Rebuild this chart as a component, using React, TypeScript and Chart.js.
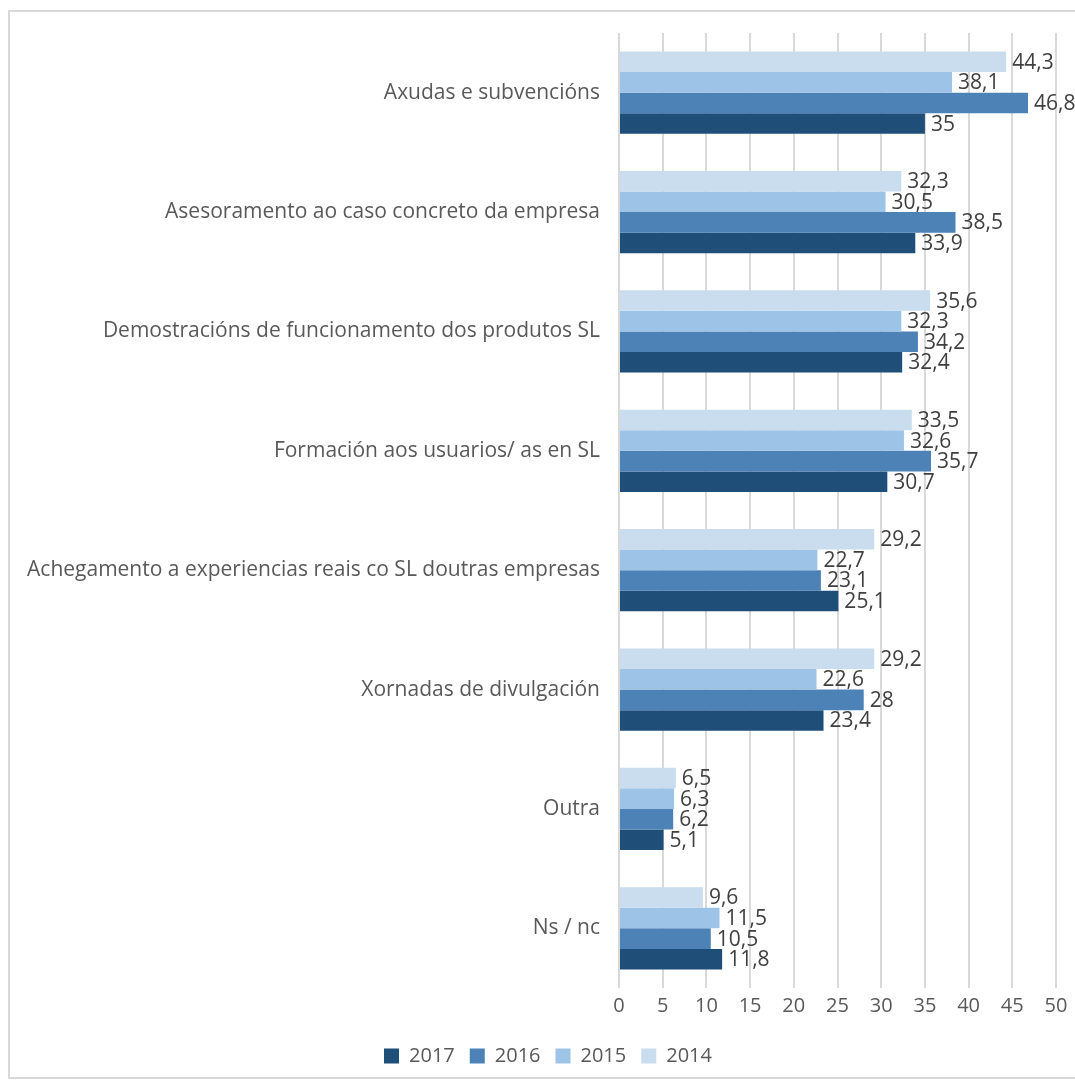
import React, { useEffect, useRef } from "react";
import { Chart, registerables } from "chart.js";

Chart.register(...registerables);

const categories = [
  "Axudas e subvencións",
  "Asesoramento ao caso concreto da empresa",
  "Demostracións de funcionamento dos produtos SL",
  "Formación aos usuarios/ as en SL",
  "Achegamento a experiencias reais co SL doutras empresas",
  "Xornadas de divulgación",
  "Outra",
  "Ns / nc",
];

const values2014 = [44.3, 32.3, 35.6, 33.5, 29.2, 29.2, 6.5, 9.6];
const values2015 = [38.1, 30.5, 32.3, 32.6, 22.7, 22.6, 6.3, 11.5];
const values2016 = [46.8, 38.5, 34.2, 35.7, 23.1, 28, 6.2, 10.5];
const values2017 = [35, 33.9, 32.4, 30.7, 25.1, 23.4, 5.1, 11.8];

const seriesLabels = ["2014", "2015", "2016", "2017"];
const seriesColors = ["#C9DDEE", "#9DC3E6", "#4C82B6", "#1F4E79"];

const xTicks = [0, 5, 10, 15, 20, 25, 30, 35, 40, 45, 50];

const FONT = "'Open Sans', 'Noto Sans', sans-serif";

const valueLabelPlugin = {
  id: "valueLabels",
  afterLayout(chart: any) {
    const lg = chart.legend;
    if (lg) {
      lg.left += 20;
      lg.right += 20;
    }
  },
  afterDatasetsDraw(chart: any) {
    const ctx = chart.ctx;
    ctx.save();
    ctx.font = `21px ${FONT}`;
    ctx.fillStyle = "#404040";
    ctx.textAlign = "left";
    ctx.textBaseline = "middle";
    chart.data.datasets.forEach((ds: any, di: number) => {
      const meta = chart.getDatasetMeta(di);
      meta.data.forEach((el: any, i: number) => {
        const v = ds.data[i];
        const txt = String(v).replace(".", ",");
        ctx.fillText(txt, el.x + 6, el.y + 1);
      });
    });
    ctx.restore();
  },
};

export default function App() {
  const ref = useRef<HTMLCanvasElement | null>(null);

  useEffect(() => {
    document.body.style.overflow = "hidden";
    const canvas = ref.current!;
    const data = [values2014, values2015, values2016, values2017];
    const chart = new Chart(canvas, {
      type: "bar",
      data: {
        labels: categories,
        datasets: seriesLabels.map((l, i) => ({
          label: l,
          data: data[i],
          backgroundColor: seriesColors[i],
          borderWidth: 0,
          categoryPercentage: 0.69,
          barPercentage: 1,
        })),
      },
      options: {
        indexAxis: "y",
        animation: false,
        responsive: false,
        devicePixelRatio: 1,
        layout: { padding: { top: 33, right: 19, left: 0, bottom: 5 } },
        plugins: {
          tooltip: { enabled: false },
          legend: {
            position: "bottom",
            reverse: true,
            labels: {
              boxWidth: 15,
              boxHeight: 15,
              padding: 15,
              color: "#595959",
              font: { family: FONT, size: 20 },
            },
          },
        },
        scales: {
          x: {
            min: xTicks[0],
            max: xTicks[xTicks.length - 1],
            afterBuildTicks(scale: any) {
              scale.ticks = xTicks.map((v) => ({ value: v }));
            },
            afterFit(scale: any) {
              scale.height = 43;
            },
            ticks: {
              color: "#595959",
              font: { family: FONT, size: 20 },
              padding: 6,
            },
            grid: { color: "#D9D9D9", lineWidth: 2, tickLength: 0, drawTicks: false },
            border: { display: false },
          },
          y: {
            ticks: {
              color: "#595959",
              font: { family: FONT, size: 21 },
              padding: 11,
            },
            grid: { display: false },
            border: { display: false },
            afterFit(scale: any) {
              scale.width = 619;
            },
          },
        },
      } as any,
      plugins: [valueLabelPlugin],
    });
    return () => chart.destroy();
  }, []);

  return (
    <div>
      <div
        style={{
          position: "absolute",
          left: 8,
          top: 10,
          width: 1075,
          height: 1069,
          boxSizing: "border-box",
          border: "2px solid #D9D9D9",
        }}
      />
      <canvas
        ref={ref}
        width={1075}
        height={1081}
        style={{ position: "absolute", left: 0, top: 0, width: 1075, height: 1081 }}
      />
    </div>
  );
}
